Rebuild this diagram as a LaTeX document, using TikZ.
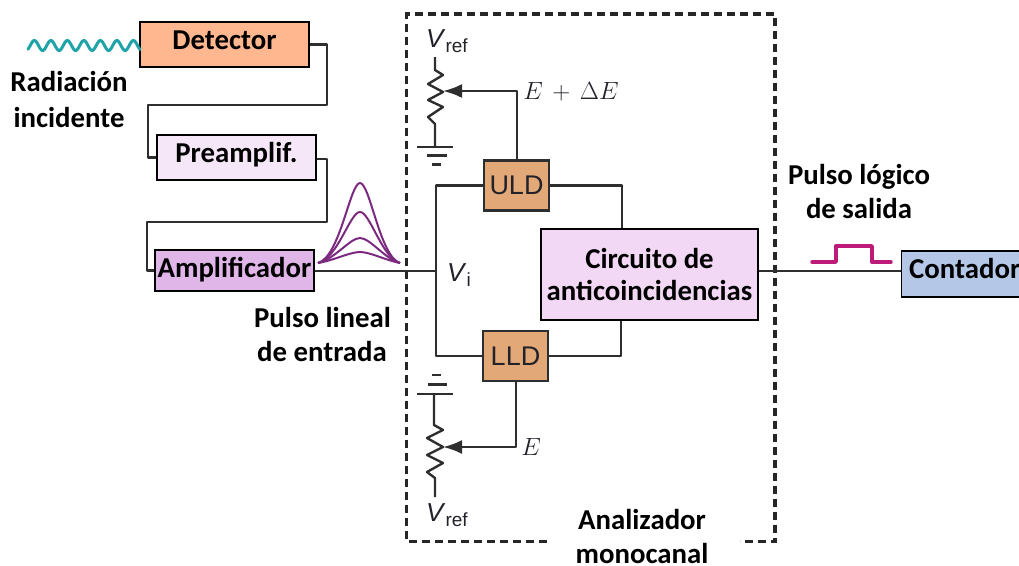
\documentclass[tikz,border=0pt]{standalone}
\usepackage{fontspec}
\setmainfont{Carlito}
\newfontfamily\helv{Liberation Sans}
\usetikzlibrary{arrows.meta}
\definecolor{wirec}{HTML}{2E2E2E}
\definecolor{inkc}{HTML}{22222A}
\definecolor{detc}{HTML}{FFB78F}
\definecolor{prec}{HTML}{F5E6F8}
\definecolor{ampc}{HTML}{E0B5E8}
\definecolor{ldc}{HTML}{E3A878}
\definecolor{cirC}{HTML}{F2D8F4}
\definecolor{conc}{HTML}{B4C7E7}
\definecolor{wavec}{HTML}{1FA3A8}
\definecolor{pulsec}{HTML}{7B2A80}
\definecolor{logicc}{HTML}{BE1A78}
\tikzset{
  x=1pt,y=-1pt,
  blockbox/.style={draw=black,line width=1.4pt,inner sep=0pt,font=\fontsize{28.8}{32}\selectfont\bfseries,text=black},
  fixedline/.style={text height=18pt,text depth=0pt},
  ldbox/.style={draw=wirec,line width=2.4pt,inner sep=0pt,fill=ldc,minimum width=65pt,minimum height=50pt,font=\helv\fontsize{27}{30}\selectfont,text=inkc},
  wire/.style={draw=wirec,line width=2.4pt,line join=round},
  thinwire/.style={draw=wirec,line width=2.2pt},
  lbl/.style={font=\fontsize{28.8}{32}\selectfont\bfseries,text=black,inner sep=0pt,anchor=base},
  sym/.style={font=\fontsize{26}{28}\selectfont,text=inkc,inner sep=0pt},
  pulseline/.style={draw=pulsec,line width=2pt,line join=round},
  gapdash/.style={draw=black!85,line width=3.6pt,dash pattern=on 8pt off 5pt},
}
\begin{document}
\begin{tikzpicture}
\useasboundingbox (0,0) rectangle (1019,565);
% blocks
\node[blockbox,fixedline,fill=detc,minimum width=169pt,minimum height=45pt] (det) at (224.5,44.5) {\raisebox{4.5pt}{Detector}};
\node[blockbox,fixedline,fill=prec,minimum width=159pt,minimum height=45pt] (pre) at (236.5,157.5) {\raisebox{4.5pt}{Preamplif.}};
\node[blockbox,fixedline,fill=ampc,minimum width=159pt,minimum height=41pt] (amp) at (234.5,270.5) {\raisebox{2.5pt}{Amplificador}};
\node[ldbox] (uld) at (516.5,185.5) {ULD};
\node[ldbox] (lld) at (515.5,356) {LLD};
\node[blockbox,fill=cirC,minimum width=217pt,minimum height=91pt,align=center] (cir) at (649.5,274.5) {\fontsize{28.8}{35}\selectfont Circuito de\\anticoincidencias};
\node[blockbox,fixedline,fill=conc,minimum width=130pt,minimum height=46pt,anchor=west] (con) at (901,274) {\hspace*{-4pt}\raisebox{5pt}{Contador}};
% dashed frame
\coordinate (fa) at (547,541.5);
\coordinate (fb) at (406.5,541.5);
\coordinate (fc) at (406.5,14);
\coordinate (fd) at (775,14);
\coordinate (fe) at (775,541.5);
\coordinate (ff) at (740,541.5);
\draw[gapdash] (fa) -- (fb) -- (fc) -- (fd) -- (fe) -- (ff);
% chain wiring
\coordinate (w1) at (327,44.5);
\coordinate (w2) at (327,105);
\coordinate (w3) at (148,105);
\coordinate (w4) at (148,157.5);
\draw[wire] (det.east) -- (w1) -- (w2) -- (w3) -- (w4) -- (pre.west);
\coordinate (w5) at (327,159);
\coordinate (w6) at (327,222);
\coordinate (w7) at (147,222);
\coordinate (w8) at (147,270.5);
\draw[wire] (pre.east |- w5) -- (w5) -- (w6) -- (w7) -- (w8) -- (amp.west);
% input bus
\coordinate (bus) at (436,271);
\coordinate (but) at (436,185.5);
\coordinate (bub) at (436,356);
\draw[thinwire] (amp.east |- bus) -- (bus);
\draw[wire] (uld.west) -- (but) -- (bub) -- (lld.west);
% to anticoincidence
\coordinate (ru) at (622,185.5);
\coordinate (rl) at (621,356);
\draw[wire] (uld.east) -- (ru) -- (ru |- cir.north);
\draw[wire] (lld.east) -- (rl) -- (rl |- cir.south);
% output
\coordinate (outy) at (830,271);
\draw[thinwire] (cir.east |- outy) -- (con.west |- outy);
% upper potentiometer
\coordinate (wu) at (443,91);
\coordinate (cu) at (517,91);
\coordinate (gu) at (435,146.5);
\coordinate (tu) at (435,57);
\draw[wire,-{Latex[length=19pt,width=14pt]}] (uld.north -| cu) -- (cu) -- (wu);
\draw[wire] (tu) -- (435,70) -- (443,75) -- (428,84) -- (443,92) -- (428,100) -- (443,107) -- (428,117) -- (435,124) -- (gu);
\draw[wire] (417,147) -- (453,147);
\draw[wire] (427,155.5) -- (447,155.5);
\draw[wire] (432,164.5) -- (441,164.5);
% lower potentiometer
\coordinate (wl) at (443,447);
\coordinate (cl) at (516,447);
\coordinate (gl) at (434,394);
\coordinate (tl) at (435,497);
\draw[wire,-{Latex[length=19pt,width=14pt]}] (lld.south -| cl) -- (cl) -- (wl);
\draw[wire] (gl) -- (434,425) -- (443,430) -- (427,438) -- (443,447) -- (427,455) -- (443,463) -- (427,472) -- (435,478) -- (tl);
\draw[wire] (417,394) -- (453,394);
\draw[wire] (428,384.5) -- (447,384.5);
\draw[wire] (432,375) -- (441,375);
% incident radiation wave
\draw[wavec,line width=3pt,line cap=round] plot[domain=28:140,samples=120,smooth] (\x,{45.5+5*sin(21.818*(\x-22))});
% input pulses
\draw[pulseline] (318,263) .. controls (340,257) and (350,183) .. (360,183) .. controls (370,183) and (380,257) .. (400,263);
\draw[pulseline] (318,263) .. controls (338,258) and (350,212) .. (360,212) .. controls (370,212) and (382,258) .. (400,263);
\draw[pulseline] (318,263) .. controls (335,259) and (350,238) .. (360,238) .. controls (370,238) and (385,259) .. (400,263);
\draw[pulseline] (318,263) .. controls (335,260) and (350,252) .. (360,252) .. controls (370,252) and (385,260) .. (400,263);
% logic pulse
\draw[logicc,line width=3.4pt,line join=round,line cap=round] (812,262) -- (836,262) -- (836,246) -- (872,246) -- (872,262) -- (891,262);
% labels
\node[lbl] (t1) at (69,91) {Radiación};
\node[lbl] (t2) at (69,127) {incidente};
\node[lbl] (t3) at (322.5,327) {Pulso lineal};
\node[lbl] (t4) at (322,361) {de entrada};
\node[lbl] (t5) at (859,184) {Pulso lógico};
\node[lbl] (t6) at (859,218) {de salida};
\node[lbl] (t7) at (642,529) {Analizador};
\node[lbl] (t8) at (642,563) {monocanal};
\node[sym] (vr1) at (447,41) {\helv\textit{V}\raisebox{-5pt}{\fontsize{19}{20}\selectfont ref}};
\node[sym] (vr2) at (447,515) {\helv\textit{V}\raisebox{-5pt}{\fontsize{19}{20}\selectfont ref}};
\node[sym] (vi) at (459,275) {\helv\textit{V}\raisebox{-5pt}{\fontsize{19}{20}\selectfont i}};
\node[sym] (e1) at (571,92) {$E\,+\,\Delta E$};
\node[sym] (e2) at (531,447) {$E$};
\end{tikzpicture}
\end{document}
